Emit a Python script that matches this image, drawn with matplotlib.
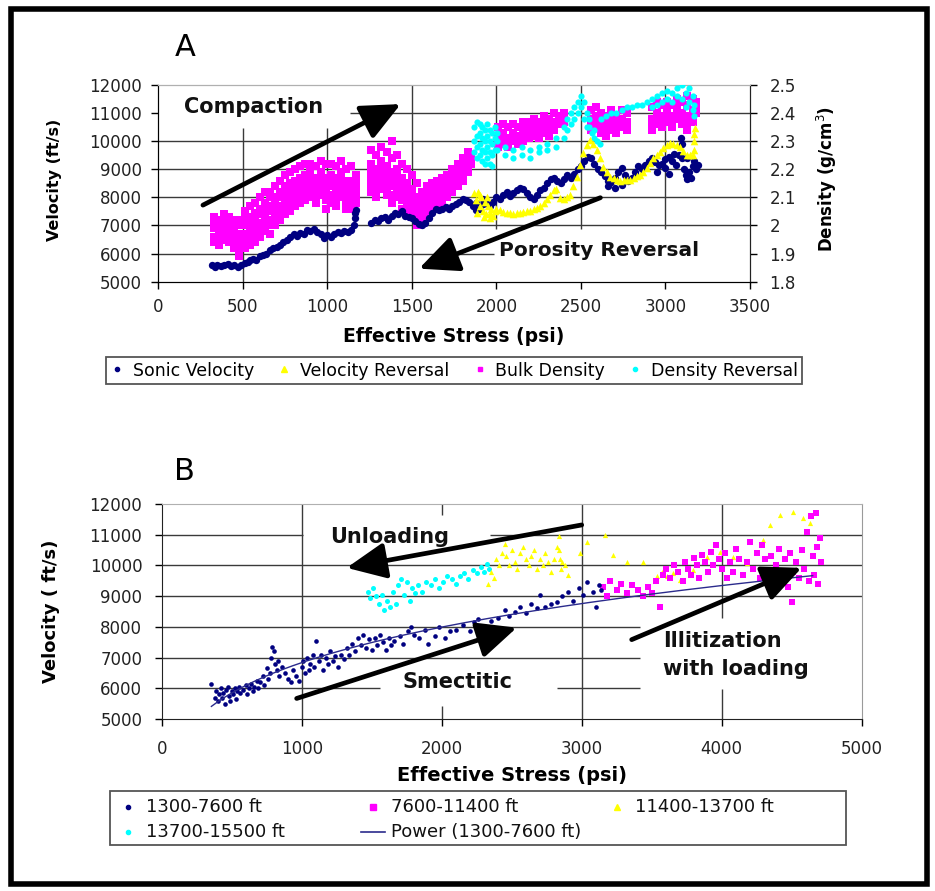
import matplotlib
matplotlib.use('Agg')
import matplotlib.pyplot as plt
from matplotlib.lines import Line2D
from matplotlib.patches import Rectangle
import numpy as np

# ---------------- panel A data ----------------
# sonic velocity (ft/s) vs effective stress (psi)
sonic_x = [320, 335, 350, 370, 390, 410, 430, 450, 470, 490, 510, 530, 545, 560, 580,
           600, 620, 640, 660, 680, 700, 720, 740, 760, 780, 800, 820, 840, 860, 880,
           900, 920, 940, 960, 980, 1000, 1020, 1040, 1060, 1080, 1100, 1120, 1140,
           1155, 1162, 1166, 1170,
           1260, 1280, 1300, 1320, 1340, 1360, 1380, 1400, 1420, 1440, 1460, 1480,
           1500, 1520, 1540, 1560, 1580, 1600, 1620, 1640, 1660, 1680, 1700, 1720,
           1740, 1760, 1780, 1800, 1820, 1840, 1860, 1880, 1900, 1920, 1940, 1960,
           1980, 2000, 2020, 2040, 2060, 2080, 2100, 2120, 2140, 2160, 2180, 2200,
           2220, 2240, 2260, 2280, 2300, 2320, 2340, 2360, 2380, 2400, 2420, 2440,
           2460, 2480, 2500, 2520, 2540, 2560, 2580, 2600, 2620, 2640, 2660, 2680,
           2700, 2720, 2740, 2760, 2780, 2800, 2820, 2840, 2860, 2880, 2900, 2920,
           2940, 2960, 2980, 3000, 3020, 3040, 3060, 3080, 3090, 3100, 3110, 3120,
           3130, 3140, 3160, 3180, 3190,
           2660, 2700, 2740, 2950, 3000, 3050, 3100, 3150, 3170, 3020, 3130, 1880, 1920]
sonic_v = [5580, 5540, 5600, 5560, 5590, 5620, 5560, 5600, 5520, 5580, 5650, 5700, 5760, 5820, 5780,
           5900, 5950, 6000, 6120, 6200, 6250, 6300, 6420, 6480, 6600, 6680, 6620, 6720, 6700, 6840,
           6800, 6880, 6760, 6700, 6560, 6650, 6600, 6700, 6760, 6720, 6800, 6760, 6850,
           7000, 7250, 7450, 7550,
           7100, 7200, 7150, 7250, 7300, 7200, 7350, 7450, 7400, 7500, 7350, 7300,
           7250, 7150, 7050, 7000, 7100, 7250, 7450, 7600, 7550, 7600, 7650, 7600,
           7700, 7750, 7850, 7950, 7900, 7850, 7700, 7550, 7600, 7750, 7800, 7700,
           7850, 8000, 7950, 8100, 8200, 8050, 8150, 8250, 8350, 8300, 8150, 8000,
           7950, 8100, 8250, 8350, 8500, 8650, 8700, 8600, 8500, 8650, 8800, 8700,
           8850, 9000, 9100, 9300, 9450, 9400, 9200, 9000, 8900, 8750, 8600, 8550,
           8700, 8900, 9050, 8800, 8600, 8700, 8900, 9100, 9000, 9150, 9300, 9400,
           9250, 9150, 9200, 9350, 9450, 9300, 9150, 9500, 10100, 9900, 9000, 8800,
           8650, 8900, 9100, 9000, 9150,
           8400, 8350, 8450, 8900, 9050, 9550, 9400, 8700, 9300, 8850, 9400, 7800, 7950]

# velocity reversal (ft/s)
vrev_x = [1870, 1880, 1890, 1900, 1910, 1920, 1930, 1940, 1950, 1960, 1970, 1980, 1990,
          2000, 2020, 2040, 2060, 2080, 2100, 2120, 2140, 2160, 2180, 2200, 2220, 2240,
          2260, 2280, 2300, 2318, 2340, 2355, 2377, 2400, 2420, 2436, 2455, 2475, 2495,
          2515, 2535, 2554, 2574, 2594, 2614, 2633, 2653, 2673, 2693, 2712, 2732, 2752,
          2772, 2791, 2811, 2830, 2850, 2870, 2890, 2909, 2929, 2948, 2968, 2988, 3008,
          3027, 3047, 3066, 3086, 3106, 3126, 3146, 3160, 3166, 3168, 3170, 3172,
          1885, 1905, 1925, 1945, 1965]
vrev_v = [8150, 7900, 8200, 7700, 8000, 7500, 7850, 7400, 7700, 7250, 7600, 7350, 7500,
          7600, 7550, 7480, 7450, 7430, 7420, 7430, 7450, 7480, 7500, 7530, 7580, 7620,
          7700, 7800, 7950, 8085, 8250, 8300, 7967, 7950, 8020, 8085, 8400, 8737, 9150,
          9569, 9850, 10043, 9900, 9687, 9400, 9093, 8900, 8737, 8680, 8619, 8600, 8610,
          8619, 8619, 8700, 8760, 8797, 8900, 9050, 9213, 9400, 9520, 9626, 9750, 9850,
          9925, 9900, 9860, 9804, 9650, 9509, 9500, 9509, 9700, 10000, 10250, 10460,
          7450, 8100, 7300, 8000, 7450]

# bulk density (g/cm3): stress positions with the densities read at each one
bulk_x = [330, 360, 390, 420, 450, 480, 510, 540, 570, 600, 630, 660, 690, 720, 750,
          780, 810, 840, 870, 900, 930, 960, 990, 1020, 1050, 1080, 1110, 1140, 1170,
          1260, 1290, 1320, 1350, 1380, 1410, 1440, 1470, 1500, 1530, 1560, 1590, 1620,
          1650, 1680, 1710, 1740, 1770, 1800, 1830, 1850,
          2010, 2040, 2070, 2100, 2130, 2160, 2190, 2220, 2250, 2280, 2310, 2340, 2370, 2400,
          2560, 2590, 2620, 2650, 2680, 2710, 2740, 2770,
          2920, 2950, 2980, 3010, 3040, 3070, 3100, 3130, 3160, 3180]
bulk_d = [[1.94, 1.96, 1.99, 2.01, 2.03], [1.93, 1.955, 1.98, 2.0, 2.02],
          [1.95, 1.97, 1.995, 2.02, 2.04], [1.94, 1.96, 1.985, 2.01, 2.03],
          [1.92, 1.945, 1.97, 1.99, 2.02], [1.89, 1.92, 1.945, 1.97, 2.0, 2.02],
          [1.92, 1.945, 1.97, 2.0, 2.025, 2.05], [1.93, 1.955, 1.98, 2.0, 2.03, 2.07],
          [1.94, 1.97, 1.99, 2.02, 2.045, 2.08], [1.96, 1.985, 2.01, 2.04, 2.06, 2.1],
          [1.98, 2.0, 2.03, 2.055, 2.08, 2.12], [1.97, 2.0, 2.02, 2.05, 2.07, 2.1, 2.12],
          [2.0, 2.03, 2.05, 2.08, 2.1, 2.14], [2.02, 2.045, 2.07, 2.1, 2.12, 2.16],
          [2.04, 2.065, 2.09, 2.115, 2.14, 2.18], [2.05, 2.08, 2.1, 2.125, 2.15, 2.19],
          [2.07, 2.095, 2.12, 2.14, 2.16, 2.2], [2.08, 2.105, 2.13, 2.15, 2.17, 2.21],
          [2.09, 2.115, 2.14, 2.16, 2.18, 2.22], [2.1, 2.125, 2.15, 2.17, 2.19, 2.22],
          [2.08, 2.105, 2.13, 2.15, 2.17, 2.21], [2.11, 2.13, 2.15, 2.17, 2.19, 2.23],
          [2.06, 2.09, 2.12, 2.145, 2.17, 2.22], [2.08, 2.11, 2.14, 2.16, 2.18, 2.22],
          [2.07, 2.095, 2.12, 2.145, 2.17, 2.21], [2.1, 2.125, 2.15, 2.17, 2.19, 2.23],
          [2.06, 2.085, 2.11, 2.135, 2.16, 2.2], [2.06, 2.085, 2.11, 2.135, 2.16, 2.21],
          [2.08, 2.105, 2.13, 2.155, 2.18],
          [2.12, 2.145, 2.17, 2.195, 2.22, 2.27], [2.1, 2.125, 2.15, 2.175, 2.2, 2.25],
          [2.13, 2.155, 2.18, 2.205, 2.23, 2.28], [2.11, 2.135, 2.16, 2.185, 2.21, 2.26],
          [2.08, 2.11, 2.14, 2.165, 2.19, 2.24, 2.3], [2.1, 2.125, 2.15, 2.175, 2.2, 2.25],
          [2.06, 2.09, 2.12, 2.145, 2.17, 2.22], [2.05, 2.075, 2.1, 2.125, 2.15, 2.2],
          [2.03, 2.055, 2.08, 2.105, 2.13, 2.18], [2.0, 2.025, 2.05, 2.075, 2.1, 2.15],
          [2.02, 2.045, 2.07, 2.095, 2.12], [2.04, 2.065, 2.09, 2.115, 2.14],
          [2.05, 2.075, 2.1, 2.125, 2.15], [2.06, 2.085, 2.11, 2.135, 2.16],
          [2.08, 2.105, 2.13, 2.15, 2.17], [2.1, 2.12, 2.14, 2.16, 2.18],
          [2.12, 2.14, 2.16, 2.18, 2.2], [2.14, 2.16, 2.18, 2.2, 2.22],
          [2.16, 2.18, 2.2, 2.22, 2.24], [2.19, 2.21, 2.23, 2.25, 2.26], [2.22, 2.24, 2.25],
          [2.28, 2.3, 2.32, 2.35], [2.29, 2.31, 2.33, 2.36], [2.28, 2.3, 2.31, 2.35],
          [2.3, 2.32, 2.33, 2.36], [2.29, 2.31, 2.32, 2.35], [2.3, 2.32, 2.34, 2.37],
          [2.31, 2.33, 2.34, 2.37], [2.32, 2.34, 2.35, 2.38], [2.31, 2.33, 2.34, 2.37],
          [2.33, 2.35, 2.36, 2.39], [2.32, 2.34, 2.35, 2.38], [2.34, 2.36, 2.37, 2.4],
          [2.36, 2.38, 2.39], [2.37, 2.39, 2.4],
          [2.34, 2.36, 2.38, 2.41], [2.35, 2.37, 2.39, 2.42], [2.33, 2.35, 2.37, 2.4],
          [2.32, 2.34, 2.36, 2.39], [2.34, 2.36, 2.38, 2.41], [2.33, 2.35, 2.36, 2.39],
          [2.35, 2.37, 2.38, 2.41], [2.34, 2.36, 2.37, 2.4],
          [2.34, 2.36, 2.38, 2.42], [2.36, 2.38, 2.4, 2.44], [2.35, 2.37, 2.39, 2.43],
          [2.37, 2.39, 2.41, 2.44], [2.35, 2.37, 2.39, 2.43], [2.38, 2.4, 2.42, 2.45],
          [2.36, 2.38, 2.4, 2.44], [2.34, 2.37, 2.39, 2.43, 2.46],
          [2.37, 2.39, 2.41, 2.45], [2.4, 2.42, 2.44]]

# density reversal (g/cm3)
drev_x = [1870, 1885, 1900, 1915, 1930, 1945, 1960, 1975, 1990, 2005,
          2050, 2100, 2150, 2200, 2250, 2300, 2350,
          2400, 2420, 2440, 2460, 2480, 2500, 2520, 2535,
          2550, 2565, 2580, 2595, 2610,
          2620, 2650, 2680, 2710, 2740, 2770, 2800, 2830, 2860, 2890,
          2920, 2950, 2980, 3010, 3040, 3070, 3100, 3120, 3140, 3160, 3170]
drev_d = [[2.35, 2.3, 2.26], [2.37, 2.32, 2.28, 2.24], [2.33, 2.29, 2.25, 2.36],
          [2.31, 2.27, 2.23, 2.35], [2.34, 2.3, 2.26, 2.22], [2.32, 2.28, 2.24, 2.36],
          [2.3, 2.26, 2.22, 2.34], [2.33, 2.29, 2.25, 2.21], [2.31, 2.27, 2.35],
          [2.3, 2.33, 2.27],
          [2.25, 2.28], [2.24, 2.27], [2.25, 2.28], [2.24, 2.27], [2.26, 2.28],
          [2.27, 2.29], [2.28, 2.31],
          [2.31, 2.35], [2.34, 2.38], [2.36, 2.4], [2.38, 2.42], [2.4, 2.44],
          [2.42, 2.46], [2.44, 2.38], [2.4, 2.35],
          [2.35, 2.38], [2.33], [2.31, 2.34], [2.3], [2.29],
          [2.38], [2.39], [2.4], [2.4], [2.41], [2.42], [2.42], [2.43], [2.43], [2.44],
          [2.42, 2.45], [2.43, 2.46], [2.44, 2.47], [2.45, 2.48], [2.44, 2.47],
          [2.46, 2.49], [2.45, 2.5], [2.47, 2.42], [2.49, 2.44], [2.46, 2.41], [2.39, 2.43]]

legend_a = ['Sonic Velocity', 'Velocity Reversal', 'Bulk Density', 'Density Reversal']

# ---------------- panel B data ----------------
d1_x = [355, 380, 390, 400, 410, 420, 430, 440, 450, 460, 470, 480, 490, 500, 510, 520,
        530, 540, 550, 560, 580, 600, 610, 620, 640, 650, 660, 680, 690, 700, 720, 730,
        750, 760, 770, 780, 790, 800, 810, 820, 830, 840, 860, 880, 900, 920, 940, 960,
        980, 1000, 1010, 1020, 1040, 1050, 1060, 1080, 1090, 1100, 1120, 1140, 1150,
        1170, 1190, 1200, 1220, 1240, 1260, 1280, 1300, 1320, 1340, 1360, 1380, 1400,
        1420, 1440, 1460, 1480, 1500, 1520, 1540, 1560, 1580, 1600, 1620, 1640, 1660,
        1700, 1720, 1760, 1780, 1800, 1840, 1880, 1900, 1950, 1980, 2020, 2060, 2100,
        2150, 2200, 2230, 2260, 2300, 2350, 2400, 2450, 2480, 2520, 2560, 2600, 2640,
        2680, 2700, 2740, 2780, 2820, 2860, 2900, 2940, 2980, 3010, 3040, 3080, 3100,
        3120, 3140]
d1_v = [6150, 5700, 5900, 5600, 5800, 6000, 5700, 5850, 5500, 5950, 6050, 5750, 5600,
        5900, 5800, 6000, 5650, 5900, 6050, 5850, 5950, 6100, 5800, 6000, 6150, 5900,
        6050, 6250, 6000, 6200, 6400, 6100, 6650, 6300, 6500, 7000, 7350, 7200, 6800,
        6600, 6900, 6400, 6700, 6500, 6300, 6200, 6600, 6400, 6250, 6700, 6900, 6500,
        7000, 6600, 6800, 7100, 6700, 7550, 6900, 7100, 6600, 7000, 6800, 7200, 6900,
        7050, 6700, 7100, 6950, 7300, 7100, 7450, 7200, 7650, 7400, 7750, 7300, 7600,
        7250, 7650, 7400, 7750, 7500, 7250, 7650, 7400, 7550, 7700, 7450, 7850, 8000,
        7750, 7650, 7900, 7450, 7700, 8000, 7650, 7850, 7900, 8050, 7850, 8150, 8250,
        8000, 8200, 8300, 8550, 8350, 8500, 8650, 8450, 8750, 8600, 9050, 8650, 8750,
        8800, 9000, 9150, 8850, 9250, 9050, 9450, 9150, 8650, 9350, 9200]

d2_x = [3150, 3180, 3200, 3250, 3280, 3320, 3360, 3400, 3440, 3470, 3500, 3530, 3557,
        3580, 3600, 3630, 3660, 3690, 3720, 3740, 3760, 3780, 3800, 3820, 3840, 3860,
        3880, 3900, 3920, 3940, 3960, 3980, 4000, 4020, 4040, 4060, 4080, 4100, 4120,
        4150, 4180, 4200, 4220, 4250, 4270, 4290, 4310, 4330, 4350, 4370, 4390, 4410,
        4430, 4450, 4470, 4490, 4500, 4510, 4530, 4550, 4570, 4590, 4610, 4620, 4640,
        4650, 4660, 4670, 4680, 4690, 4700, 4710]
d2_v = [9300, 9000, 9500, 9200, 9400, 9100, 9350, 9200, 9000, 9300, 9100, 9500, 8650,
        9700, 9900, 9600, 10000, 9800, 9500, 10100, 9900, 9700, 10250, 10000, 9600,
        10350, 10100, 9800, 10450, 10000, 10650, 10200, 9900, 10400, 9600, 10100, 9800,
        10550, 10200, 9700, 10100, 10750, 9900, 10400, 9600, 10650, 10200, 9800, 10300,
        9500, 10000, 10550, 9700, 10200, 9300, 10400, 8800, 9800, 10100, 9600, 10500,
        9900, 11100, 9500, 11600, 10300, 9700, 11700, 10600, 9400, 10900, 10100]

d3_x = [2330, 2350, 2370, 2390, 2410, 2430, 2450, 2460, 2480, 2500, 2520, 2540, 2560,
        2580, 2600, 2620, 2640, 2660, 2680, 2700, 2720, 2740, 2760, 2780, 2800, 2820,
        2835, 2840, 2845, 2850, 2860, 2880, 2900, 2986, 3036, 3164, 3221, 3321, 3436,
        3536, 3570, 3607, 3650, 3700, 3793, 3893, 3986, 4079, 4179, 4293, 4343, 4414,
        4507, 4579, 4629]
d3_v = [9400, 9800, 9600, 10200, 10000, 10400, 10700, 10300, 10000, 10500, 10100,
        9900, 10400, 10600, 10200, 10000, 10300, 10500, 9900, 10200, 10000, 10400,
        10100, 9800, 10200, 10600, 10950, 10500, 10200, 9900, 10100, 10000, 9700,
        10409, 10776, 10994, 10344, 10127, 10127, 9640, 9800, 9640, 9750, 9532, 9857,
        10289, 10451, 10289, 10074, 10831, 11318, 11643, 11751, 11535, 11373]

d4_x = [1470, 1490, 1510, 1530, 1550, 1570, 1590, 1610, 1630, 1650, 1670, 1690, 1710,
        1730, 1750, 1770, 1790, 1810, 1830, 1860, 1890, 1920, 1950, 1980, 2010, 2040,
        2070, 2100, 2130, 2160, 2190, 2220, 2250, 2280, 2300, 2320, 2340]
d4_v = [9150, 8950, 9250, 9000, 8750, 9050, 8550, 8850, 8650, 9150, 8750, 9350, 9550,
        9050, 9450, 8850, 9250, 9100, 9350, 9150, 9450, 9350, 9550, 9250, 9450, 9650,
        9550, 9400, 9650, 9750, 9550, 9850, 9750, 9950, 9800, 10050, 9900]

legend_b = ['1300-7600 ft', '7600-11400 ft', '11400-13700 ft', '13700-15500 ft',
            'Power (1300-7600 ft)']

NAVY = '#000080'
MAG = '#ff00ff'
YEL = '#ffff00'
CYA = '#00ffff'
GRID = '#3a3a3a'
W, H = 935, 891


def fx(px):
    return px / W


def fy(py):
    return 1 - py / H


def flatten(xs, groups):
    xx = [x for x, g in zip(xs, groups) for _ in g]
    yy = [d for g in groups for d in g]
    return xx, yy


def to_density(vals):
    # the two y axes share one frame: 5000-12000 ft/s <-> 1.8-2.5 g/cm3
    return [1.8 + (v - 5000) / 10000 for v in vals]


def arrow(ax, tail, tip):
    ax.annotate('', xy=tip, xytext=tail, zorder=10,
                arrowprops=dict(arrowstyle='-|>,head_length=1.2,head_width=0.55',
                                mutation_scale=20, lw=3.4, color='black',
                                shrinkA=0, shrinkB=0))


def style_axis(ax):
    ax.tick_params(direction='out', length=5, width=1, labelsize=12,
                   labelcolor='#222222', pad=7)
    for s in ['left', 'bottom']:
        ax.spines[s].set_color('#222222')
    ax.spines['top'].set_color('#b0b0b0')


plt.rcParams['font.family'] = 'DejaVu Sans'
fig = plt.figure(figsize=(W / 100, H / 100), dpi=100)

# ============ panel A ============
axA = fig.add_axes([fx(158.3), fy(281.7), (750 - 158.3) / W, (281.7 - 85) / H])
style_axis(axA)
axA.set_xlim(0, 3500)
axA.set_ylim(5000, 12000)
axA.set_xticks(range(0, 3501, 500))
axA.set_yticks(range(5000, 12001, 1000))
axA.spines['right'].set_color('#222222')

# grid, with the gaps left by the annotation boxes
for y, segs in {11000: [(1134, 3500)], 10000: [(0, 3500)], 9000: [(0, 3500)],
                8000: [(0, 3500)], 7000: [(0, 3500)], 6000: [(0, 1985)]}.items():
    for a, b in segs:
        axA.hlines(y, a, b, color=GRID, lw=1.0, zorder=1)
for x, segs in {500: [(5000, 10470)], 1000: [(5000, 10470)], 1500: [(5000, 12000)],
                2000: [(6875, 12000)], 2500: [(6875, 12000)], 3000: [(6875, 12000)]}.items():
    for a, b in segs:
        axA.vlines(x, a, b, color=GRID, lw=1.0, zorder=1)

axA2 = axA.twinx()
axA2.set_ylim(1.8, 2.5)
axA2.set_yticks([1.8, 1.9, 2.0, 2.1, 2.2, 2.3, 2.4, 2.5])
axA2.set_yticklabels(['1.8', '1.9', '2', '2.1', '2.2', '2.3', '2.4', '2.5'])
axA2.tick_params(direction='out', length=5, width=1, labelsize=12,
                 labelcolor='#222222', pad=9)
axA2.spines['top'].set_color('#b0b0b0')
axA2.spines['right'].set_color('#222222')

bx, bd = flatten(bulk_x, bulk_d)
dx, dd = flatten(drev_x, drev_d)
axA2.scatter(bx, bd, s=26, marker='s', color=MAG, linewidths=0, zorder=3)
axA2.scatter(dx, dd, s=20, marker='o', color=CYA, linewidths=0, zorder=4)
axA2.scatter(sonic_x, to_density(sonic_v), s=28, marker='o', color=NAVY,
             linewidths=0, zorder=5)
axA2.scatter(vrev_x, to_density(vrev_v), s=30, marker='^', color=YEL,
             linewidths=0, zorder=6)

arrow(axA2, (264, to_density([7725])[0]), (1434, to_density([11321])[0]))
arrow(axA2, (2615, to_density([7989])[0]), (1542, to_density([5464])[0]))

axA.set_xlabel('Effective Stress (psi)', fontsize=13.5, fontweight='bold', labelpad=8)
axA.set_ylabel('Velocity (ft/s)', fontsize=11.5, fontweight='bold')
axA.yaxis.set_label_coords(-0.163, 0.52)
axA2.set_ylabel('Density (g/cm$^3$)', fontsize=12, fontweight='bold', rotation=90)
axA2.yaxis.set_label_coords(1.11, 0.52)

fig.text(fx(185), fy(48), 'A', fontsize=22, ha='center', va='center')
fig.text(fx(184), fy(107), 'Compaction', fontsize=15, fontweight='bold', ha='left',
         va='center', color='#111111')
fig.text(fx(499), fy(250), 'Porosity Reversal', fontsize=14.5, fontweight='bold',
         ha='left', va='center', color='#111111')

hA = [Line2D([], [], ls='', marker='o', ms=3, color=NAVY),
      Line2D([], [], ls='', marker='^', ms=4, color=YEL),
      Line2D([], [], ls='', marker='s', ms=3.5, color=MAG),
      Line2D([], [], ls='', marker='o', ms=3, color=CYA)]
legA = fig.legend(hA, legend_a, loc='center', bbox_to_anchor=(fx(454), fy(370.5)),
                  ncol=4, fancybox=False, edgecolor='#555555', fontsize=12.5,
                  handlelength=0.8, handletextpad=0.5, columnspacing=1.35,
                  borderpad=0.25, framealpha=1)
legA.get_frame().set_linewidth(1.3)

# ============ panel B ============
axB = fig.add_axes([fx(161.7), fy(719), 700 / W, (719 - 504) / H])
style_axis(axB)
axB.tick_params(axis='x', pad=10)
axB.tick_params(axis='y', pad=9)
axB.set_xlim(0, 5000)
axB.set_ylim(5000, 12000)
axB.set_xticks(range(0, 5001, 1000))
axB.set_yticks(range(5000, 12001, 1000))
axB.spines['right'].set_color('#9a9a9a')

for y, segs in {11000: [(0, 1009), (2345, 5000)], 10000: [(0, 5000)], 9000: [(0, 5000)],
                8000: [(0, 3416)], 7000: [(0, 3416)],
                6000: [(0, 1559), (2824, 3416)]}.items():
    for a, b in segs:
        axB.hlines(y, a, b, color=GRID, lw=1.0, zorder=1)
for x, segs in {1000: [(5000, 12000)], 2000: [(5000, 5409), (11643, 12000)],
                3000: [(5000, 12000)], 4000: [(5000, 5961), (8299, 12000)]}.items():
    for a, b in segs:
        axB.vlines(x, a, b, color=GRID, lw=1.0, zorder=1)

axB.scatter(d4_x, d4_v, s=13, marker='o', color=CYA, linewidths=0, zorder=3)
axB.scatter(d3_x, d3_v, s=14, marker='^', color=YEL, linewidths=0, zorder=3)
axB.scatter(d2_x, d2_v, s=22, marker='s', color=MAG, linewidths=0, zorder=4)
axB.scatter(d1_x, d1_v, s=11, marker='o', color=NAVY, linewidths=0, zorder=5)

# power-law trend fitted to the shallow interval
b_pow, ln_a = np.polyfit(np.log(d1_x), np.log(d1_v), 1)
tx = np.linspace(min(d1_x), 4650, 200)
axB.plot(tx, np.exp(ln_a) * tx ** b_pow, color='#2b2b8c', lw=1.0, zorder=6)

arrow(axB, (3000, 11318), (1321, 9922))
arrow(axB, (964, 5669), (2536, 7974))
arrow(axB, (3357, 7584), (4571, 9922))

axB.set_xlabel('Effective Stress (psi)', fontsize=14, fontweight='bold', labelpad=6)
axB.set_ylabel('Velocity ( ft/s)', fontsize=13, fontweight='bold')
axB.yaxis.set_label_coords(-0.146, 0.5)

fig.text(fx(184), fy(472), 'B', fontsize=22, ha='center', va='center')
fig.text(fx(330), fy(537), 'Unloading', fontsize=15, fontweight='bold', ha='left',
         va='center', color='#111111')
fig.text(fx(403), fy(682), 'Smectitic', fontsize=15, fontweight='bold', ha='left',
         va='center', color='#111111')
fig.text(fx(663), fy(641), 'Illitization', fontsize=15, fontweight='bold', ha='left',
         va='center', color='#111111')
fig.text(fx(663), fy(669), 'with loading', fontsize=15, fontweight='bold', ha='left',
         va='center', color='#111111')

# legend B laid out like the spreadsheet legend (equal column slots)
fig.add_artist(Rectangle((fx(110), fy(845)), (846 - 110) / W, (845 - 791) / H,
                         transform=fig.transFigure, fill=False, ec='#555555', lw=1.3))
slots = [(128, 807), (373, 807), (617, 807), (128, 832), (373, 832)]
mk = [('o', NAVY, 3), ('s', MAG, 4), ('^', YEL, 4), ('o', CYA, 3)]
for i, (label, (px, py)) in enumerate(zip(legend_b, slots)):
    if i < 4:
        m, c, ms = mk[i]
        fig.add_artist(Line2D([fx(px)], [fy(py)], ls='', marker=m, ms=ms, color=c,
                              transform=fig.transFigure))
    else:
        fig.add_artist(Line2D([fx(px - 12), fx(px + 12)], [fy(py), fy(py)], lw=1.2,
                              color='#2b2b8c', transform=fig.transFigure))
    fig.text(fx(px + 18), fy(py), label, fontsize=13, ha='left', va='center',
             color='#111111')

# outer frame
fig.add_artist(Rectangle((fx(10.5), fy(883.5)), (927 - 10.5) / W, (883.5 - 8.5) / H,
                         transform=fig.transFigure, fill=False, ec='black', lw=4))

fig.savefig('out.png', dpi=100)
